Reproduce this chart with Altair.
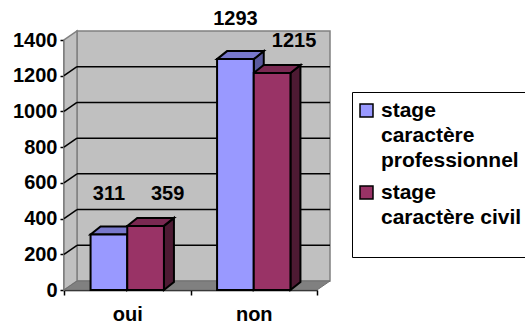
import json
import altair as alt
import pandas as pd

# ---------------- data ----------------
categories = ["oui", "non"]
series = ["stage caractère professionnel", "stage caractère civil"]
legend_lines = [["stage", "caractère", "professionnel"], ["stage", "caractère civil", ""]]
values_pro = [311, 1293]
values_civil = [359, 1215]
y_ticks = [0, 200, 400, 600, 800, 1000, 1200, 1400]

# ---------------- style ----------------
W, H = 253, 250
Y_MAX = y_ticks[-1]
N = len(categories)
front_colors = ["#9999FF", "#993366"]
top_colors = ["#7878CC", "#7A2952"]
side_colors = ["#5A5A9E", "#4D1A33"]
FONT = "Liberation Sans"
FS = 20
label_dx = [0, 22]
label_dy = [-40, -32]

ux = N / W          # data units per pixel (x)
uy = Y_MAX / H      # data units per pixel (y)
bar_w = 0.29
bdx, bdy = 10 * ux, 8 * uy     # bar depth
wdx, wdy = 13 * ux, 9 * uy     # wall depth

series_values = [values_pro, values_civil]

fronts, tops, sides = [], [], []
for i, cat in enumerate(categories):
    for j, s in enumerate(series):
        v = series_values[j][i]
        x0 = i + 0.5 + (j - 1) * bar_w
        x1 = x0 + bar_w
        bid = f"{cat}-{j}"
        fronts.append(dict(id=bid, series=s, cat=cat, x0=x0, x1=x1, v=v,
                           cx=(x0 + x1) / 2, zero=0))
        for x, lo, hi in [(x0, v, v), (x0 + bdx, v, v + bdy),
                          (x1, v, v + bdy), (x1 + bdx, v + bdy, v + bdy)]:
            tops.append(dict(id=bid, series=s, x=x, lo=lo, hi=hi))
        for x, lo, hi in [(x1, 0, v), (x1 + bdx, bdy, v + bdy)]:
            sides.append(dict(id=bid, series=s, x=x, lo=lo, hi=hi))

fronts = pd.DataFrame(fronts)
tops = pd.DataFrame(tops)
sides = pd.DataFrame(sides)

back = pd.DataFrame([dict(x0=wdx, x1=N + wdx, y0=wdy, y1=Y_MAX + wdy)])
sidewall = pd.DataFrame([dict(x=0, lo=0, hi=Y_MAX), dict(x=wdx, lo=wdy, hi=Y_MAX + wdy)])
floor = pd.DataFrame([dict(x=0, lo=0, hi=0), dict(x=wdx, lo=0, hi=wdy),
                      dict(x=N, lo=0, hi=wdy), dict(x=N + wdx, lo=wdy, hi=wdy)])
grid_back = pd.DataFrame([dict(x0=wdx, x1=N + wdx, y=t + wdy) for t in y_ticks[1:-1]])
grid_side = pd.DataFrame([dict(x0=0, x1=wdx, y0=t, y1=t + wdy) for t in y_ticks[1:-1]])

xs = alt.Scale(domain=[0, N], nice=False, zero=False)
ys = alt.Scale(domain=[0, Y_MAX], nice=False, zero=False)

cat_expr = " : ".join(f"datum.value == {i} ? {json.dumps(c, ensure_ascii=False)}"
                      for i, c in enumerate(categories)) + " : ''"
xaxis = alt.Axis(values=list(range(N + 1)), labelExpr=cat_expr, title=None,
                 labelOffset=W / N / 2, labelFlush=False, labelOverlap=False,
                 labelFont=FONT, labelFontSize=FS, labelFontWeight="bold", labelColor="black",
                 domainColor="black", domainWidth=1.5, tickColor="black", tickWidth=1.5,
                 tickSize=5, labelPadding=9, grid=False)
yaxis = alt.Axis(values=y_ticks, format="d", title=None, labelFlush=False, labelOverlap=False,
                 labelFont=FONT, labelFontSize=FS, labelFontWeight="bold", labelColor="black",
                 domainColor="black", domainWidth=2, tickColor="black", tickWidth=1.5,
                 tickSize=4, labelPadding=3, grid=False)


def X(f):
    return alt.X(f, type="quantitative", scale=xs, axis=xaxis)


def Y(f):
    return alt.Y(f, type="quantitative", scale=ys, axis=yaxis)


back_l = alt.Chart(back).mark_rect(fill="#C0C0C0", stroke="#808080", strokeWidth=1.5).encode(
    x=X("x0"), x2="x1", y=Y("y0"), y2="y1")
side_l = alt.Chart(sidewall).mark_area(fill="#C0C0C0", stroke="#808080", strokeWidth=1.5,
                                       orient="vertical").encode(
    x=X("x"), y=Y("lo"), y2="hi")
floor_l = alt.Chart(floor).mark_area(fill="#808080", stroke="#707070", strokeWidth=1,
                                     orient="vertical").encode(
    x=X("x"), y=Y("lo"), y2="hi")
gb_l = alt.Chart(grid_back).mark_rule(color="black", strokeWidth=1.5).encode(
    x=X("x0"), x2="x1", y=Y("y"))
gs_l = alt.Chart(grid_side).mark_rule(color="black", strokeWidth=1.5).encode(
    x=X("x0"), x2="x1", y=Y("y0"), y2="y1")

sides_l = alt.Chart(sides).mark_area(stroke="black", strokeWidth=2, orient="vertical",
                                     opacity=1).encode(
    x=X("x"), y=Y("lo"), y2="hi", detail="id:N",
    color=alt.Color("series:N", scale=alt.Scale(domain=series, range=side_colors), legend=None))
tops_l = alt.Chart(tops).mark_area(stroke="black", strokeWidth=2, orient="vertical",
                                   opacity=1).encode(
    x=X("x"), y=Y("lo"), y2="hi", detail="id:N",
    color=alt.Color("series:N", scale=alt.Scale(domain=series, range=top_colors), legend=None))

label_expr = " : ".join(
    f"datum.label == {json.dumps(s, ensure_ascii=False)} ? {json.dumps(l, ensure_ascii=False)}"
    for s, l in zip(series, legend_lines)) + " : datum.label"

fronts_l = alt.Chart(fronts).mark_rect(stroke="black", strokeWidth=2, opacity=1).encode(
    x=X("x0"), x2="x1", y=Y("zero"), y2="v",
    color=alt.Color("series:N", scale=alt.Scale(domain=series, range=front_colors),
                    legend=alt.Legend(title=" ", titleFontSize=4, titlePadding=0,
                                      orient="none", legendX=288, legendY=52,
                                      labelExpr=label_expr, labelFont=FONT, labelFontSize=21,
                                      labelFontWeight="bold", labelColor="black",
                                      labelBaseline="middle", labelLimit=400, labelOffset=4,
                                      symbolType="square", symbolSize=169,
                                      symbolStrokeColor="black", symbolStrokeWidth=1.5,
                                      symbolOpacity=1, rowPadding=10, padding=4,
                                      strokeColor="black", fillColor="white")))

label_layers = []
for j, s in enumerate(series):
    label_layers.append(
        alt.Chart(fronts[fronts.series == s]).mark_text(
            font=FONT, fontSize=FS, fontWeight="bold", color="black",
            dx=label_dx[j], dy=label_dy[j], baseline="middle", align="center").encode(
            x=X("cx"), y=Y("v"), text="v:Q"))

chart = alt.layer(back_l, side_l, floor_l, gb_l, gs_l, sides_l, tops_l, fronts_l,
                  *label_layers).resolve_scale(color="independent").properties(
    width=W, height=H,
    autosize=alt.AutoSizeParams(type="none"),
    padding={"left": 64, "top": 40, "right": 525 - 64 - W, "bottom": 324 - 40 - H},
    background="white",
).configure_view(stroke=None).configure(style={"guide-label": {"lineHeight": 25}})

chart.save("out.html", embed_options={"renderer": "svg", "actions": False})
